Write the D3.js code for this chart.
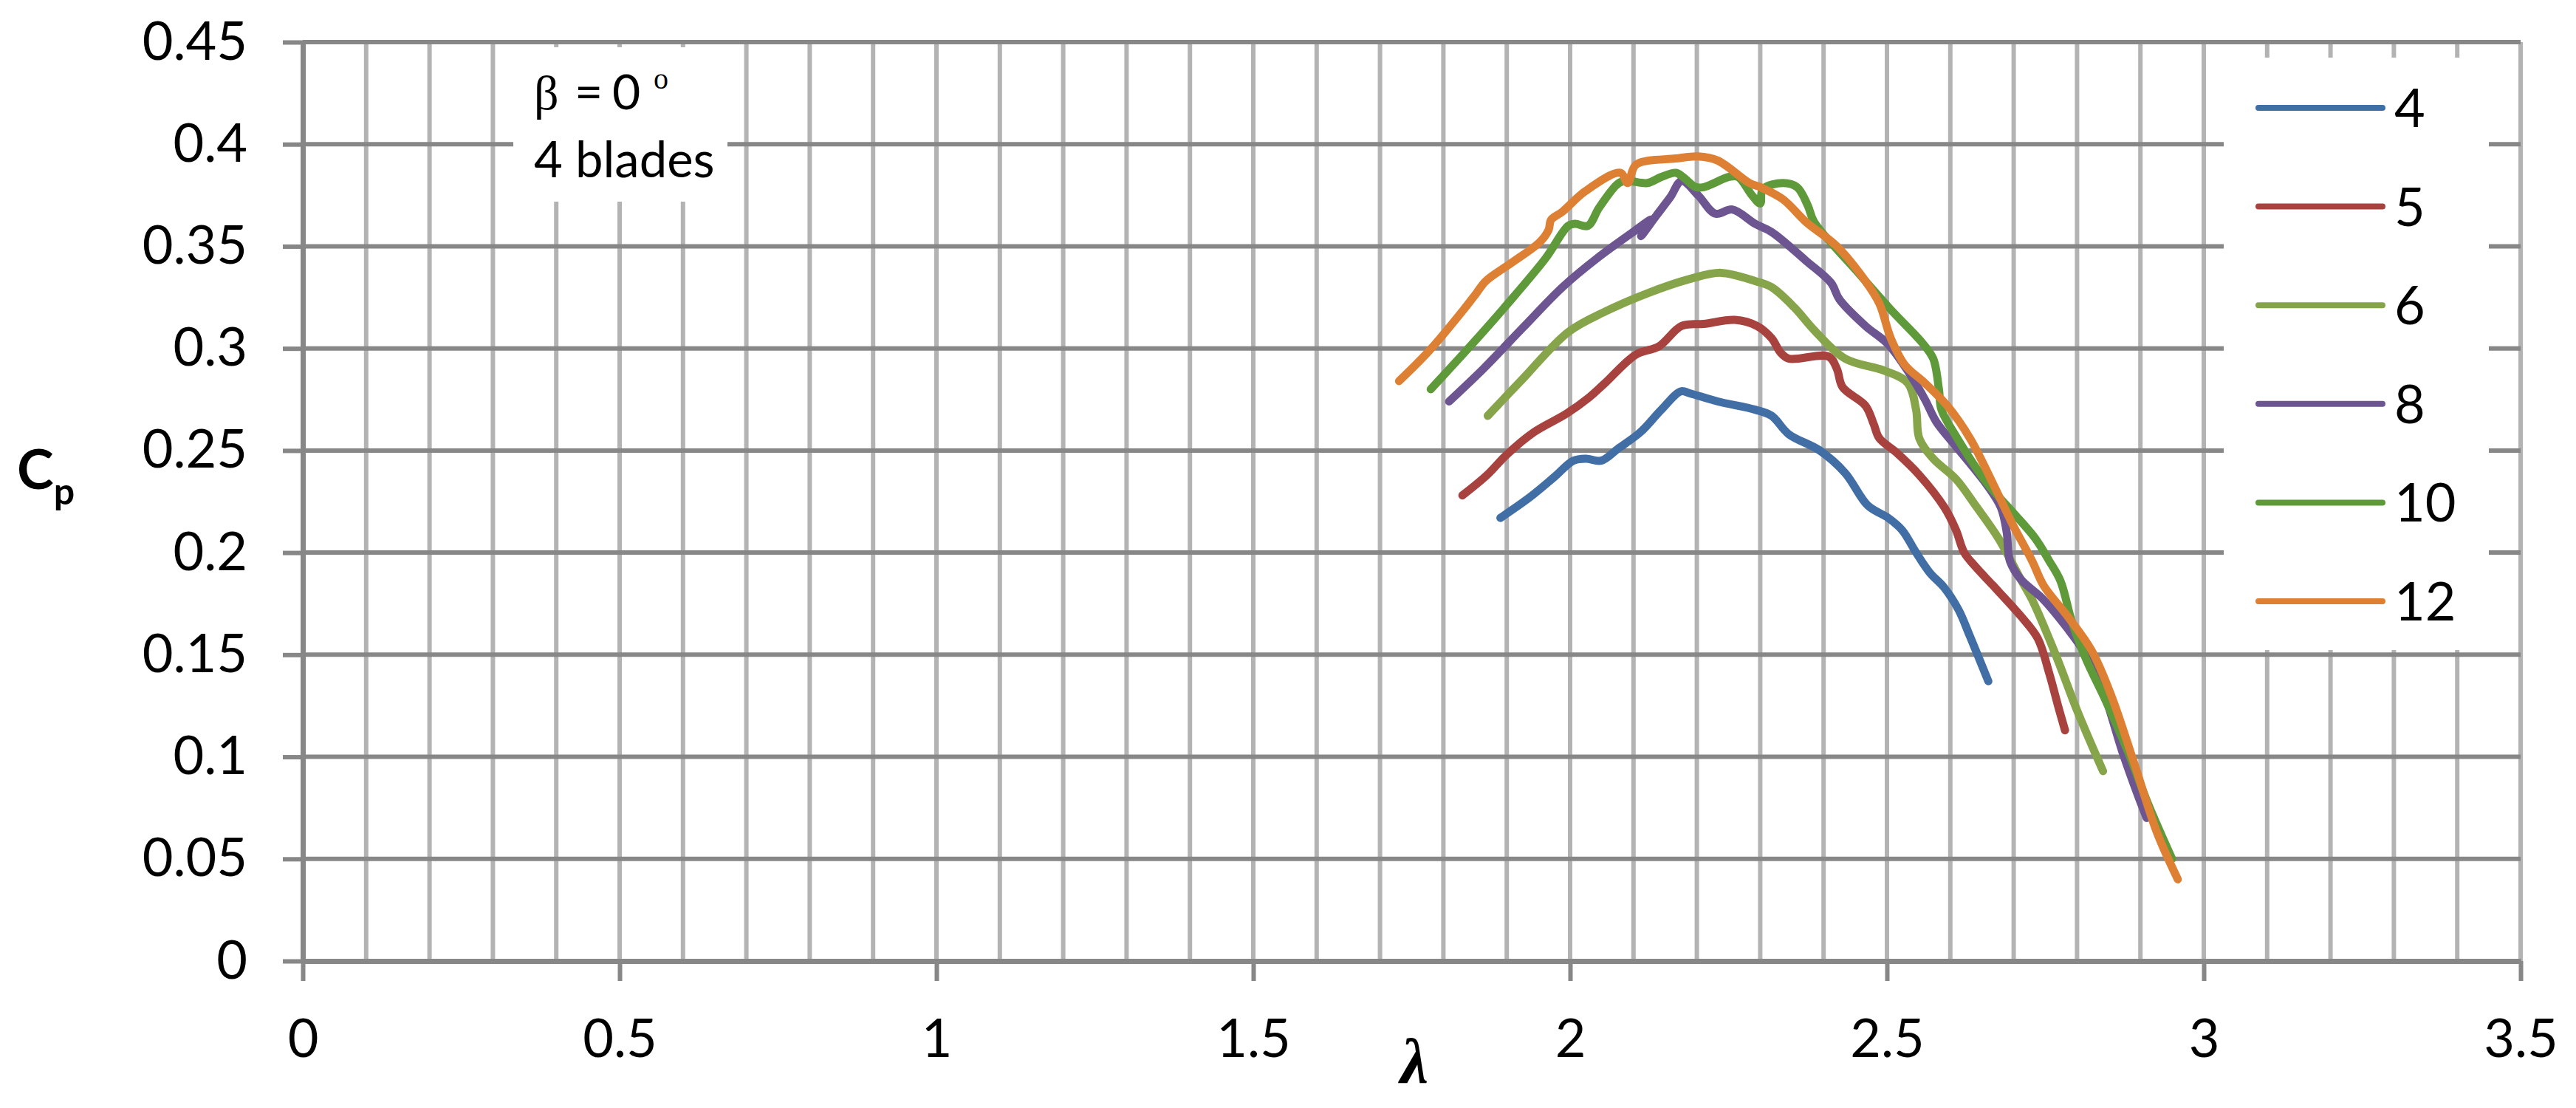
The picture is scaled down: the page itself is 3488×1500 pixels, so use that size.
<!DOCTYPE html>
<html>
<head>
<meta charset="utf-8">
<script src="https://cdn.jsdelivr.net/npm/d3@7/dist/d3.min.js"></script>
<style>
  body { margin: 0; background: #fff; }
  #plot { width: 3488px; height: 1500px; }
</style>
</head>
<body>
<div id="plot"></div>
<script>
// Data: [lambda, Cp] per wind speed
var speeds = ["4", "5", "6", "8", "10", "12"];
var colours = ["#426EA6", "#A8423F", "#86A54A", "#6C5590", "#5E9A3A", "#DE8034"];

var ws4 = [[1.890,0.217],[1.936,0.227],[1.975,0.237],[2.005,0.245],[2.025,0.246],[2.049,0.245],[2.076,0.251],
  [2.111,0.259],[2.144,0.270],[2.175,0.279],[2.189,0.278],[2.233,0.274],[2.292,0.270],[2.318,0.267],[2.345,0.258],
  [2.394,0.250],[2.434,0.239],[2.470,0.223],[2.502,0.217],[2.524,0.211],[2.546,0.200],[2.568,0.190],[2.590,0.183],
  [2.613,0.172],[2.631,0.159],[2.660,0.137]];
var ws5 = [[1.830,0.228],[1.869,0.238],[1.900,0.248],[1.943,0.259],[1.994,0.268],[2.030,0.276],[2.055,0.283],
  [2.104,0.297],[2.140,0.301],[2.176,0.311],[2.211,0.312],[2.260,0.314],[2.295,0.311],[2.318,0.305],[2.332,0.298],
  [2.345,0.295],[2.408,0.296],[2.421,0.290],[2.430,0.281],[2.466,0.272],[2.479,0.263],[2.488,0.256],[2.515,0.249],
  [2.551,0.238],[2.591,0.222],[2.609,0.211],[2.622,0.200],[2.640,0.193],[2.667,0.184],[2.711,0.169],[2.738,0.158],
  [2.756,0.141],[2.770,0.125],[2.781,0.113]];
var ws6 = [[1.870,0.267],[1.925,0.285],[1.997,0.308],[2.055,0.318],[2.122,0.327],[2.189,0.334],[2.238,0.337],
  [2.292,0.333],[2.318,0.330],[2.354,0.320],[2.385,0.309],[2.434,0.295],[2.497,0.289],[2.533,0.283],[2.546,0.270],
  [2.551,0.256],[2.573,0.246],[2.609,0.236],[2.640,0.223],[2.676,0.207],[2.711,0.187],[2.729,0.177],[2.765,0.151],
  [2.801,0.122],[2.841,0.093]];
var ws8 = [[1.809,0.274],[1.863,0.290],[1.925,0.310],[1.988,0.330],[2.042,0.344],[2.095,0.356],[2.128,0.363],
  [2.112,0.355],[2.136,0.365],[2.158,0.374],[2.176,0.382],[2.202,0.375],[2.229,0.366],[2.256,0.368],[2.292,0.361],
  [2.318,0.357],[2.372,0.343],[2.412,0.332],[2.425,0.324],[2.466,0.311],[2.502,0.302],[2.537,0.287],[2.560,0.275],
  [2.578,0.264],[2.609,0.252],[2.658,0.233],[2.680,0.222],[2.689,0.210],[2.694,0.196],[2.711,0.187],[2.747,0.177],
  [2.787,0.162],[2.810,0.152],[2.837,0.136],[2.872,0.102],[2.895,0.082],[2.910,0.070]];
var ws10 = [[1.780,0.280],[1.845,0.302],[1.899,0.321],[1.961,0.344],[1.997,0.360],[2.008,0.361],[2.028,0.360],
  [2.046,0.369],[2.077,0.381],[2.091,0.382],[2.122,0.381],[2.144,0.384],[2.167,0.386],[2.178,0.384],[2.198,0.379],
  [2.211,0.379],[2.251,0.384],[2.265,0.384],[2.287,0.375],[2.300,0.371],[2.304,0.378],[2.336,0.381],[2.358,0.379],
  [2.375,0.370],[2.385,0.362],[2.452,0.338],[2.506,0.319],[2.555,0.303],[2.573,0.295],[2.582,0.280],[2.586,0.270],
  [2.609,0.257],[2.658,0.234],[2.698,0.220],[2.734,0.207],[2.756,0.196],[2.774,0.186],[2.792,0.166],[2.814,0.148],
  [2.846,0.127],[2.881,0.102],[2.912,0.077],[2.950,0.050]];
var ws12 = [[1.730,0.284],[1.778,0.299],[1.832,0.319],[1.852,0.327],[1.867,0.333],[1.908,0.342],[1.952,0.352],
  [1.966,0.358],[1.970,0.363],[1.988,0.367],[2.024,0.377],[2.079,0.386],[2.091,0.381],[2.104,0.390],[2.167,0.393],
  [2.202,0.394],[2.233,0.392],[2.283,0.381],[2.300,0.379],[2.336,0.373],[2.372,0.362],[2.421,0.350],[2.466,0.333],
  [2.488,0.322],[2.506,0.305],[2.528,0.292],[2.560,0.283],[2.595,0.272],[2.631,0.256],[2.667,0.234],[2.698,0.214],
  [2.729,0.196],[2.747,0.184],[2.787,0.168],[2.823,0.152],[2.854,0.130],[2.890,0.097],[2.926,0.063],[2.959,0.040]];
var seriesData = [ws4, ws5, ws6, ws8, ws10, ws12];

var xTicks = [0, 0.5, 1, 1.5, 2, 2.5, 3, 3.5];
var yTicks = [0, 0.05, 0.1, 0.15, 0.2, 0.25, 0.3, 0.35, 0.4, 0.45];

// Sizes (plotTop: "top" is taken by window.top)
var w = 3488, h = 1500;
var plotLeft = 410, plotRight = 3413, plotTop = 57, plotBottom = 1301;
var darkGrid = "#878787", lightGrid = "#B3B3B3";
var labelFont = "Lato, 'Open Sans', sans-serif";

var svg = d3.select("#plot").append("svg")
    .attr("width", w)
    .attr("height", h);

var xScale = d3.scaleLinear().domain([0, 3.5]).range([plotLeft, plotRight]);
var yScale = d3.scaleLinear().domain([0, 0.45]).range([plotBottom, plotTop]);

// Minor vertical gridlines every 0.1
var xMinor = d3.range(1, 36).map(function(i) { return i / 10; });
svg.append("g").selectAll("line")
    .data(xMinor)
    .enter().append("line")
    .attr("x1", function(d) { return xScale(d); })
    .attr("x2", function(d) { return xScale(d); })
    .attr("y1", yScale(0.45))
    .attr("y2", yScale(0))
    .attr("stroke", lightGrid)
    .attr("stroke-width", 6);

// Horizontal gridlines
svg.append("g").selectAll("line")
    .data(yTicks.slice(1))
    .enter().append("line")
    .attr("x1", xScale(0))
    .attr("x2", xScale(3.5))
    .attr("y1", function(d) { return yScale(d); })
    .attr("y2", function(d) { return yScale(d); })
    .attr("stroke", darkGrid)
    .attr("stroke-width", 6);

// Axes
var xAxis = d3.axisBottom(xScale)
    .tickValues(xTicks)
    .tickFormat(d3.format("~g"))
    .tickSize(27)
    .tickSizeOuter(0)
    .tickPadding(52);
var gx = svg.append("g")
    .attr("transform", "translate(0," + plotBottom + ")")
    .call(xAxis);

var yAxis = d3.axisLeft(yScale)
    .tickValues(yTicks)
    .tickFormat(d3.format("~g"))
    .tickSize(27)
    .tickSizeOuter(0)
    .tickPadding(48);
var gy = svg.append("g")
    .attr("transform", "translate(" + plotLeft + ",0)")
    .call(yAxis);

[gx, gy].forEach(function(g) {
  g.select(".domain").attr("stroke", darkGrid).attr("stroke-width", 7);
  g.selectAll(".tick line").attr("stroke", darkGrid).attr("stroke-width", 6);
  g.selectAll(".tick text")
      .attr("fill", "#000")
      .style("font-family", labelFont)
      .style("font-size", "72px");
});

// Curves (Excel-style smoothed lines)
var line = d3.line()
    .x(function(d) { return xScale(d[0]); })
    .y(function(d) { return yScale(d[1]); })
    .curve(d3.curveCatmullRom.alpha(0.5));

svg.append("g").selectAll("path")
    .data(seriesData)
    .enter().append("path")
    .attr("d", line)
    .attr("fill", "none")
    .attr("stroke", function(d, i) { return colours[i]; })
    .attr("stroke-width", 11)
    .attr("stroke-linecap", "round")
    .attr("stroke-linejoin", "round");

// Annotation box
var note = svg.append("g");
note.append("rect")
    .attr("x", 695).attr("y", 64)
    .attr("width", 290).attr("height", 209)
    .attr("fill", "#fff");
var l1 = note.append("text").attr("y", 148).attr("fill", "#000");
l1.append("tspan").attr("x", 723)
    .style("font-family", "'Liberation Serif', serif").style("font-size", "66px").text("β");
l1.append("tspan").attr("x", 778)
    .style("font-family", labelFont).style("font-size", "66px").text("=");
l1.append("tspan").attr("x", 829)
    .style("font-family", labelFont).style("font-size", "66px").text("0");
l1.append("tspan").attr("x", 885).attr("y", 120)
    .style("font-family", "'Liberation Serif', serif").style("font-size", "40px").text("o");
note.append("text")
    .attr("x", 723).attr("y", 240)
    .attr("fill", "#000")
    .style("font-family", labelFont).style("font-size", "67px")
    .text("4 blades");

// Legend
var legend = svg.append("g");
legend.append("rect")
    .attr("x", 3011).attr("y", 78)
    .attr("width", 359).attr("height", 802)
    .attr("fill", "#fff");
var item = legend.selectAll(".item")
    .data(speeds)
    .enter().append("g")
    .attr("class", "item")
    .attr("transform", function(d, i) { return "translate(0," + (146 + i * 133.6) + ")"; });
item.append("line")
    .attr("x1", 3058).attr("x2", 3226)
    .attr("stroke", function(d, i) { return colours[i]; })
    .attr("stroke-width", 8)
    .attr("stroke-linecap", "round");
item.append("text")
    .attr("x", 3242).attr("dy", "0.36em")
    .attr("fill", "#000")
    .style("font-family", labelFont).style("font-size", "72px")
    .text(function(d) { return d; });

// Axis titles
var cp = svg.append("text").attr("x", 23).attr("y", 662).attr("fill", "#000")
    .style("font-family", labelFont).style("font-weight", "bold");
cp.append("tspan").style("font-size", "75px").text("C");
cp.append("tspan").attr("dy", 21).style("font-size", "50px").text("p");

svg.append("text")
    .attr("x", 1915).attr("y", 1466)
    .attr("text-anchor", "middle")
    .attr("fill", "#000")
    .style("font-family", "'Liberation Serif', serif")
    .style("font-weight", "bold").style("font-style", "italic")
    .style("font-size", "86px")
    .text("λ");
</script>
</body>
</html>
